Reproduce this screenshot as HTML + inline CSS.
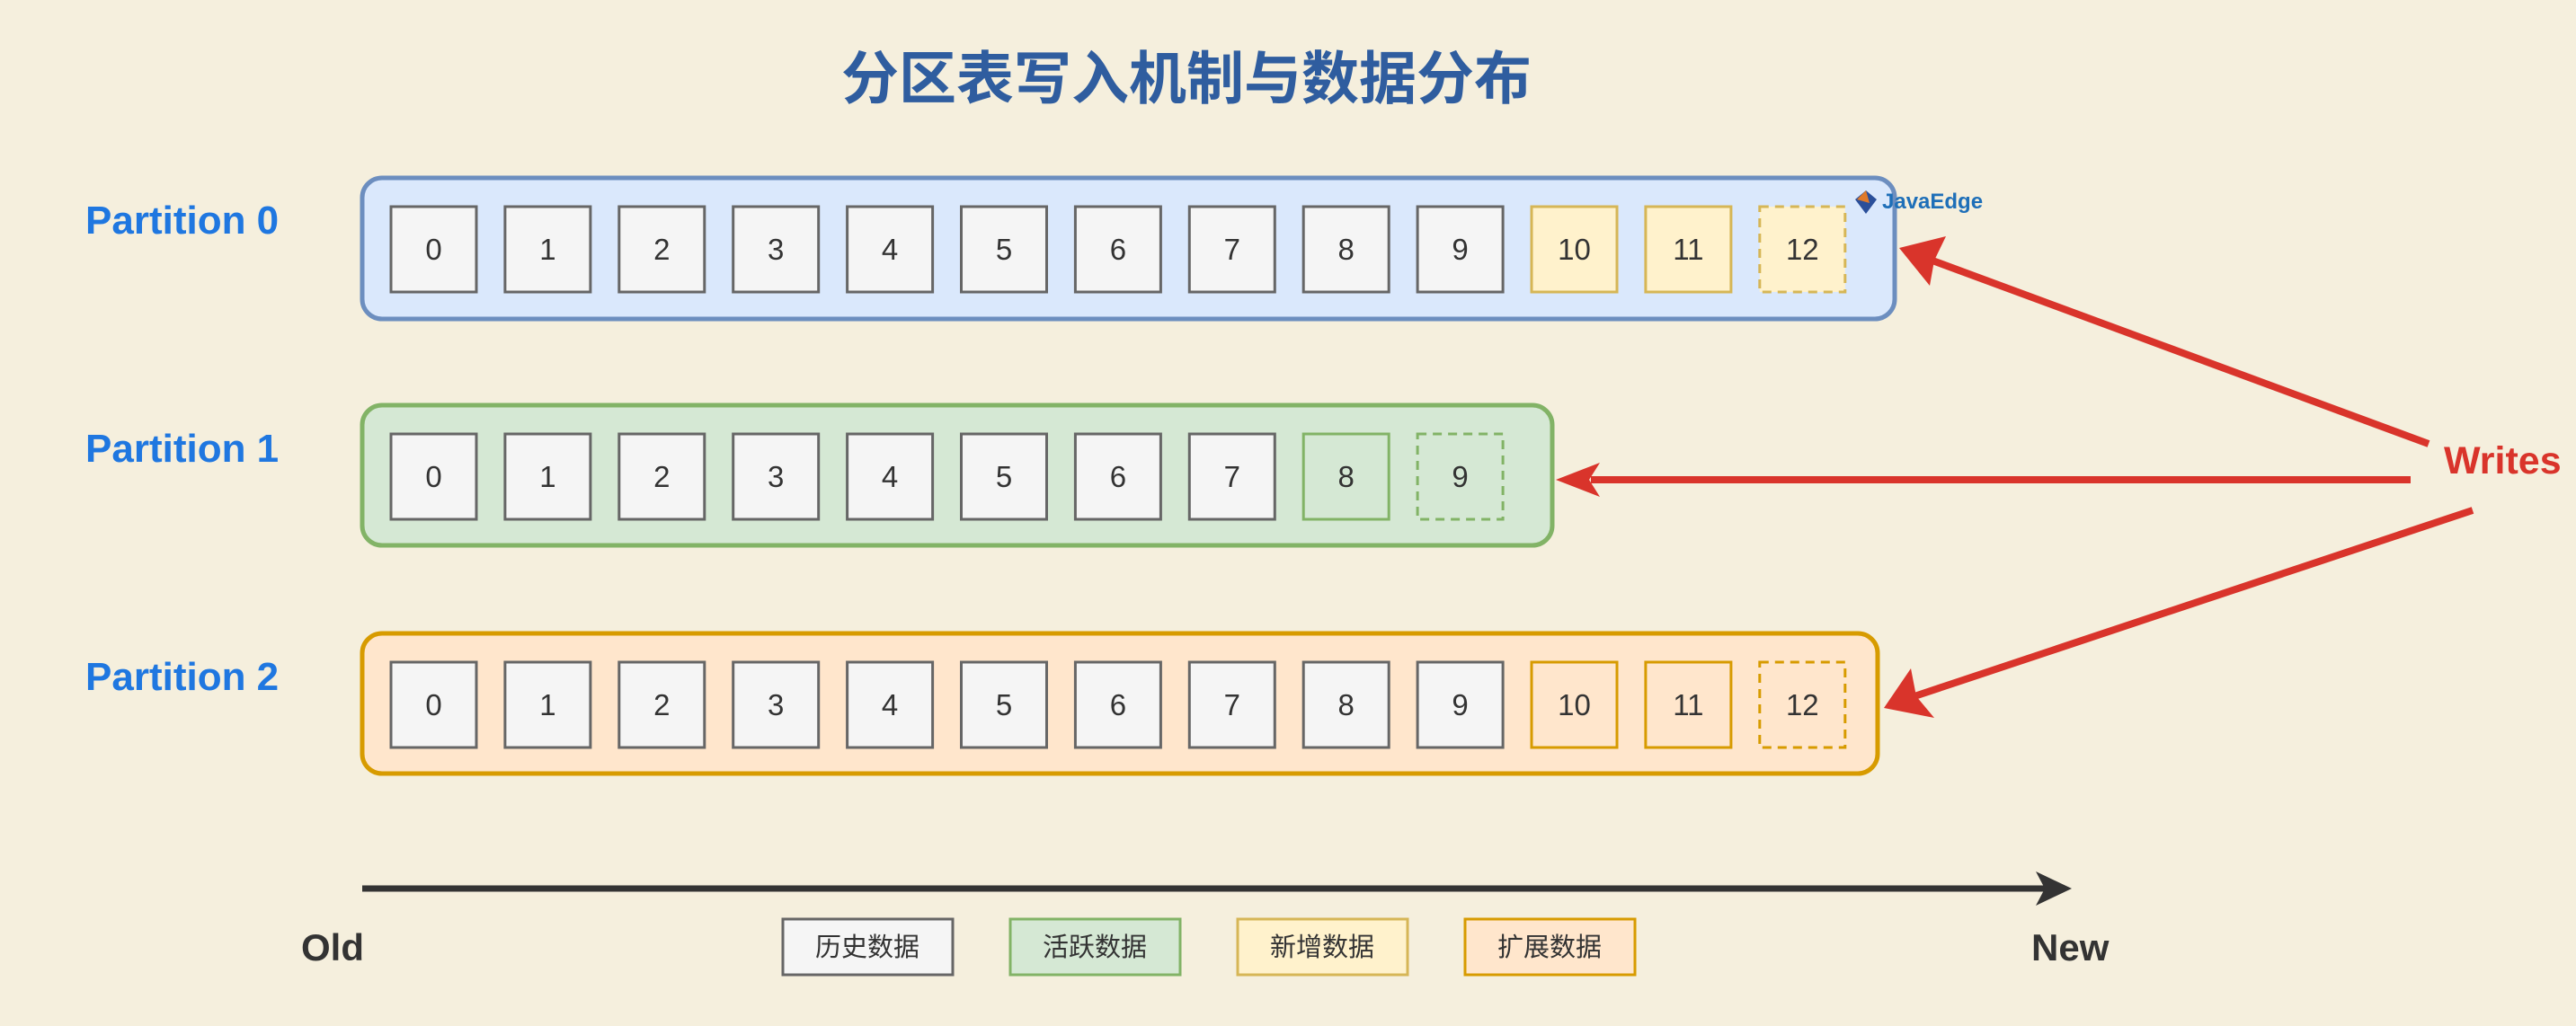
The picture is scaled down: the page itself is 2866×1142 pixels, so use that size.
<!DOCTYPE html>
<html><head><meta charset="utf-8"><style>
html,body{margin:0;padding:0;background:#f5efdd;}
svg{display:block}
text{font-family:"Liberation Sans","Noto Sans CJK SC",sans-serif;}
</style></head><body>
<svg width="2866" height="1142" viewBox="0 0 2866 1142" xmlns="http://www.w3.org/2000/svg">
<rect width="2866" height="1142" fill="#f5efdd"/>
<text x="1320" y="110" text-anchor="middle" font-size="64" font-weight="bold" fill="#2f5d9f" font-family="'Liberation Sans','Noto Sans CJK SC',sans-serif">分区表写入机制与数据分布</text>

<g font-size="44" font-weight="bold" fill="#1f77e0">
<text x="95" y="260">Partition 0</text>
<text x="95" y="514">Partition 1</text>
<text x="95" y="768">Partition 2</text>
</g>

<rect x="403" y="198" width="1705" height="157" rx="22" fill="#dae8fc" stroke="#6c8ebf" stroke-width="5"/>
<rect x="403" y="451" width="1324" height="156" rx="22" fill="#d5e8d4" stroke="#82b366" stroke-width="5"/>
<rect x="403" y="705" width="1686" height="156" rx="22" fill="#ffe6cc" stroke="#d79b00" stroke-width="5"/>

<g id="boxes" font-size="33" fill="#333" text-anchor="middle">
</g>
<script>
(function(){
var g=document.getElementById('boxes');var ns='http://www.w3.org/2000/svg';
function box(i,y,f,s,dash){var x=435+i*126.9;var r=document.createElementNS(ns,'rect');
r.setAttribute('x',x);r.setAttribute('y',y);r.setAttribute('width',95);r.setAttribute('height',95);
r.setAttribute('fill',f);r.setAttribute('stroke',s);r.setAttribute('stroke-width',3);
if(dash)r.setAttribute('stroke-dasharray','10 7');g.appendChild(r);
var t=document.createElementNS(ns,'text');t.setAttribute('x',x+47.5);t.setAttribute('y',y+59);t.textContent=i;t.setAttribute('fill','#333');g.appendChild(t);}
var G=['#f5f5f5','#666666'],Y=['#fff2cc','#d6b656'],Gr=['#d5e8d4','#82b366'],O=['#ffe6cc','#d79b00'];
for(var i=0;i<13;i++){var c=i<10?G:Y;box(i,230,c[0],c[1],i==12);}
for(var i=0;i<10;i++){var c=i<8?G:Gr;box(i,483,c[0],c[1],i==9);}
for(var i=0;i<13;i++){var c=i<10?G:O;box(i,737,c[0],c[1],i==12);}
})();
</script>

<g>
<polygon points="2076,212 2088,222 2076,238 2064,222" fill="#2a4f9a"/>
<polygon points="2066,222 2076,212 2080,226" fill="#e07a2a"/>
<text x="2094" y="232" font-size="24" font-weight="bold" fill="#1e6fb8">JavaEdge</text>
</g>

<g stroke="#d9342b" stroke-width="8" fill="none">
<line x1="2702" y1="494" x2="2150" y2="290"/>
<line x1="2682" y1="534" x2="1770" y2="534"/>
<line x1="2751" y1="568" x2="2130" y2="775"/>
</g>
<g fill="#d9342b">
<polygon points="2113,276 2165,263 2152,290 2147,318"/>
<polygon points="1731,534 1780,515 1768,534 1780,553"/>
<polygon points="2096,788 2126,744 2132,775 2152,799"/>
</g>
<text x="2719" y="527" font-size="43" font-weight="bold" fill="#d9342b">Writes</text>

<line x1="403" y1="989" x2="2275" y2="989" stroke="#333" stroke-width="7"/>
<polygon points="2305,989 2265,970 2275,989 2265,1008" fill="#333"/>
<text x="335" y="1069" font-size="42" font-weight="bold" fill="#333">Old</text>
<text x="2260" y="1069" font-size="42" font-weight="bold" fill="#333">New</text>

<g font-size="29" fill="#333" text-anchor="middle">
<rect x="871" y="1023" width="189" height="62" fill="#f5f5f5" stroke="#666666" stroke-width="3"/>
<text x="965" y="1064">历史数据</text>
<rect x="1124" y="1023" width="189" height="62" fill="#d5e8d4" stroke="#82b366" stroke-width="3"/>
<text x="1218" y="1064">活跃数据</text>
<rect x="1377" y="1023" width="189" height="62" fill="#fff2cc" stroke="#d6b656" stroke-width="3"/>
<text x="1471" y="1064">新增数据</text>
<rect x="1630" y="1023" width="189" height="62" fill="#ffe6cc" stroke="#d79b00" stroke-width="3"/>
<text x="1724" y="1064">扩展数据</text>
</g>
</svg>
</body></html>
